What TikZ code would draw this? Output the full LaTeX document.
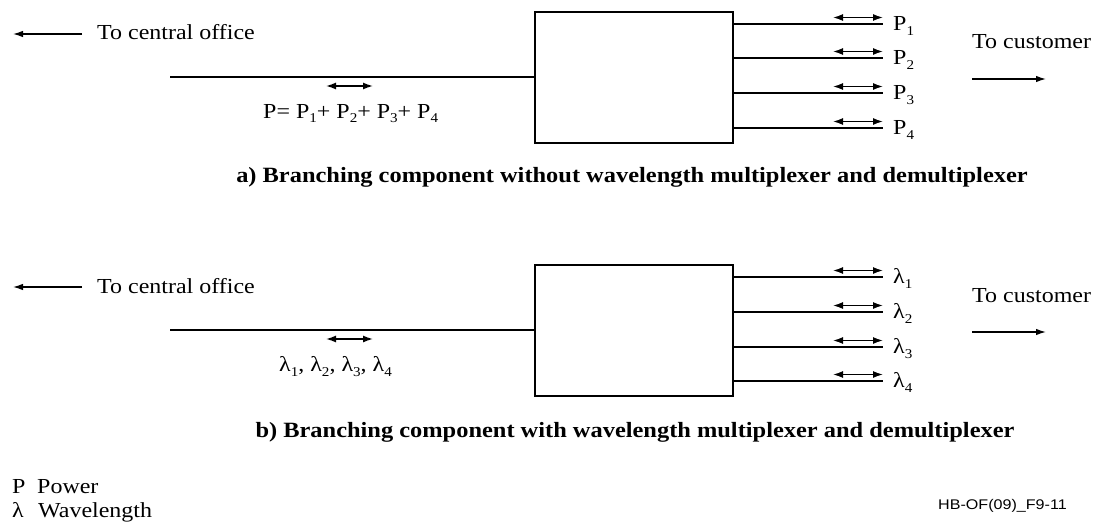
\documentclass[tikz,border=0pt]{standalone}
\usepackage{fontspec}
\setmainfont{Liberation Serif}[FakeStretch=1.12]
\newfontfamily\codefont{Liberation Sans}[FakeStretch=1.15]
\usetikzlibrary{arrows.meta}
\newcommand{\sbs}[1]{\raisebox{-5pt}{\fontsize{13.5}{13.5}\selectfont #1}}
\tikzset{
  lbl/.style={font=\fontsize{21.4}{24}\selectfont, inner sep=0pt, anchor=base west},
  capt/.style={font=\fontsize{21.8}{24}\selectfont\bfseries, inner sep=0pt, anchor=base},
  fib/.style={line width=1.2pt},
  dbl/.style={line width=1.4pt, {Latex[length=10pt,width=7pt]}-{Latex[length=10pt,width=7pt]}},
  dirarr/.style={line width=1.3pt, -{Latex[length=10pt,width=6.5pt]}},
  comp/.style={draw, line width=1.8pt, minimum width=198pt, minimum height=131pt, inner sep=0pt, anchor=north west}
}
\begin{document}
\begin{tikzpicture}[x=1pt,y=-1pt]
\useasboundingbox (0,0) rectangle (1094,524);
% ---------- part a ----------
\node[comp] (boxa) at (534,11) {};
\coordinate (cotaila) at (82,34);
\coordinate (cotipa) at (13,34);
\draw[dirarr] (cotaila) -- (cotipa);
\node[lbl] (coa) at (97,40) {To central office};
\coordinate (ina) at (170,77);
\draw[fib] (ina) -- (ina -| boxa.west);
\coordinate (dla) at (326,86);
\coordinate (dra) at (373,86);
\draw[dbl] (dla) -- (dra);
\node[lbl] (suma) at (263,118) {P= P\sbs{1}+ P\sbs{2}+ P\sbs{3}+ P\sbs{4}};
\foreach \i/\y in {1/24,2/58,3/93,4/128}{
  \coordinate (oa\i) at (883,\y);
  \draw[fib] (oa\i -| boxa.east) -- (oa\i);
  \coordinate (al\i) at (833,\y-6.5);
  \coordinate (ar\i) at (883,\y-6.5);
  \draw[dbl] (al\i) -- (ar\i);
  \node[lbl] (pa\i) at (893,\y+6.5) {P\sbs{\i}};
}
\node[lbl] (cua) at (972,49) {To customer};
\coordinate (cula) at (972,79);
\coordinate (cura) at (1046,79);
\draw[dirarr] (cula) -- (cura);
\node[capt] (capa) at (632,182) {a) Branching component without wavelength multiplexer and demultiplexer};
% ---------- part b ----------
\node[comp] (boxb) at (534,264) {};
\coordinate (cotailb) at (82,287);
\coordinate (cotipb) at (13,287);
\draw[dirarr] (cotailb) -- (cotipb);
\node[lbl] (cob) at (97,293) {To central office};
\coordinate (inb) at (170,330);
\draw[fib] (inb) -- (inb -| boxb.west);
\coordinate (dlb) at (326,339);
\coordinate (drb) at (373,339);
\draw[dbl] (dlb) -- (drb);
\node[lbl] (sumb) at (279,371) {λ\sbs{1}, λ\sbs{2}, λ\sbs{3}, λ\sbs{4}};
\foreach \i/\y in {1/277,2/312,3/347,4/381}{
  \coordinate (ob\i) at (883,\y);
  \draw[fib] (ob\i -| boxb.east) -- (ob\i);
  \coordinate (bl\i) at (833,\y-6.5);
  \coordinate (br\i) at (883,\y-6.5);
  \draw[dbl] (bl\i) -- (br\i);
  \node[lbl] (lb\i) at (893,\y+6.5) {λ\sbs{\i}};
}
\node[lbl] (cub) at (972,302) {To customer};
\coordinate (culb) at (972,332);
\coordinate (curb) at (1046,332);
\draw[dirarr] (culb) -- (curb);
\node[capt] (capb) at (635,437) {b) Branching component with wavelength multiplexer and demultiplexer};
% ---------- legend ----------
\node[lbl] (lgp) at (12,493) {P};
\node[lbl] (lgpt) at (37,493) {Power};
\node[lbl] (lgl) at (12,517) {λ};
\node[lbl] (lglt) at (38,517) {Wavelength};
\node[font=\codefont\fontsize{14}{16}\selectfont, inner sep=0pt, anchor=base west] (code) at (938,509) {HB-OF(09)\_F9-11};
\end{tikzpicture}
\end{document}
